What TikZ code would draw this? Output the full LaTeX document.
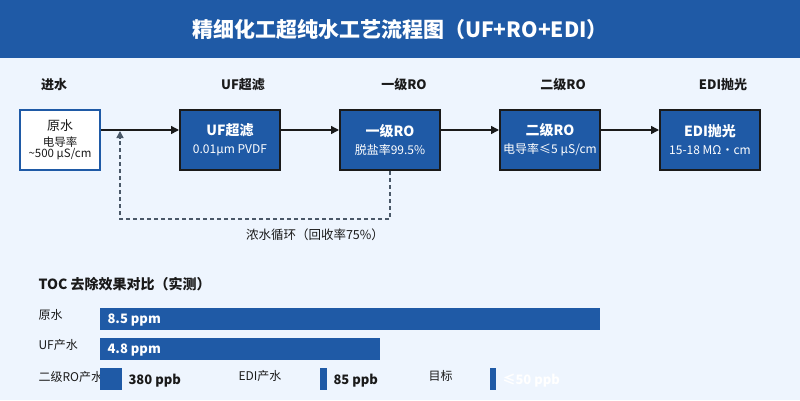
\documentclass[tikz,border=0pt]{standalone}
\usepackage{fontspec}
\setmainfont{Noto Sans CJK SC}
\usetikzlibrary{arrows.meta}
\definecolor{bg}{HTML}{EEF5FE}
\definecolor{blu}{HTML}{1F5AA6}
\definecolor{dk}{HTML}{1A1A1A}
\definecolor{gr}{HTML}{4A5868}
\begin{document}
\begin{tikzpicture}[x=1pt,y=-1pt,
 box/.style={draw=dk,line width=2pt,fill=blu,minimum width=100pt,minimum height=60pt,text=white,align=center,inner sep=0pt,font=\fontsize{12}{18}\selectfont},
 hd/.style={font=\bfseries\fontsize{13}{15}\selectfont,text=dk},
 lab/.style={font=\fontsize{12}{14}\selectfont,text=dk,anchor=west},
 bar/.style={fill=blu,draw=none},
 val/.style={font=\bfseries\fontsize{13}{15}\selectfont,anchor=west},
 arr/.style={draw=dk,line width=1.5pt,-{Triangle[length=8pt,width=8pt]}}]
\useasboundingbox (0,0) rectangle (800,400);
\fill[bg] (0,0) rectangle (800,400);
\fill[blu] (0,0) rectangle (800,58);
\node[text=white,font=\bfseries\fontsize{21}{24}\selectfont] (title) at (400,29) {精细化工超纯水工艺流程图（UF+RO+EDI）};
\node[hd] (h1) at (54,85) {进水};
\node[hd] (h2) at (243,85) {UF超滤};
\node[hd] (h3) at (404,85) {一级RO};
\node[hd] (h4) at (563,85) {二级RO};
\node[hd] (h5) at (723,85) {EDI抛光};
\node[box,fill=white,draw=blu,text=dk,minimum width=80pt,font=\fontsize{11.5}{14}\selectfont] (raw) at (60,140) {{\fontsize{13}{15}\selectfont 原水}\\[2pt]电导率\\[-3pt]\textasciitilde500 μS/cm};
\node[box] (uf) at (230,140) {{\bfseries\fontsize{14}{15}\selectfont UF超滤}\\0.01μm PVDF};
\node[box] (ro1) at (390,140) {{\bfseries\fontsize{14}{15}\selectfont 一级RO}\\脱盐率99.5\%};
\node[box] (ro2) at (550,140) {{\bfseries\fontsize{14}{15}\selectfont 二级RO}\\电导率≤5 μS/cm};
\node[box] (edi) at (710,140) {{\bfseries\fontsize{14}{15}\selectfont EDI抛光}\\15-18 MΩ・cm};
\draw[arr] (raw.east|-0,130) -- (uf.west|-0,130);
\draw[arr] (uf.east|-0,130) -- (ro1.west|-0,130);
\draw[arr] (ro1.east|-0,130) -- (ro2.west|-0,130);
\draw[arr] (ro2.east|-0,130) -- (edi.west|-0,130);
\coordinate (rt) at (120,131);
\draw[gr,line width=1.5pt,dash pattern=on 4pt off 3pt,-{Triangle[length=7pt,width=7pt]}] (ro1.south) -- (390,219) -- (120,219) -- (rt);
\node[font=\fontsize{12.5}{14}\selectfont,text=dk] (rec) at (315,235) {浓水循环（回收率75\%）};
\node[font=\bfseries\fontsize{14}{16}\selectfont,text=dk,anchor=west] (toc) at (35,284) {TOC 去除效果对比（实测）};
\node[lab] (l1) at (35,315) {原水};
\fill[bar] (100,308) rectangle (600,330);
\node[val,text=white] (v1) at (104,320) {8.5 ppm};
\node[lab] (l2) at (35,345) {UF产水};
\fill[bar] (100,338) rectangle (380,360);
\node[val,text=white] (v2) at (104,350) {4.8 ppm};
\node[lab] (l3) at (35,377) {二级RO产水};
\fill[bar] (100,368) rectangle (122,390);
\node[val,text=dk] (v3) at (125,381) {380 ppb};
\node[lab] (l4) at (235,376) {EDI产水};
\fill[bar] (320,368) rectangle (327,390);
\node[val,text=dk] (v4) at (330,381) {85 ppb};
\node[lab] (l5) at (425,376) {目标};
\fill[bar] (490,368) rectangle (496,390);
\node[val,text=white] (v5) at (499,381) {≤50 ppb};
\end{tikzpicture}
\end{document}
